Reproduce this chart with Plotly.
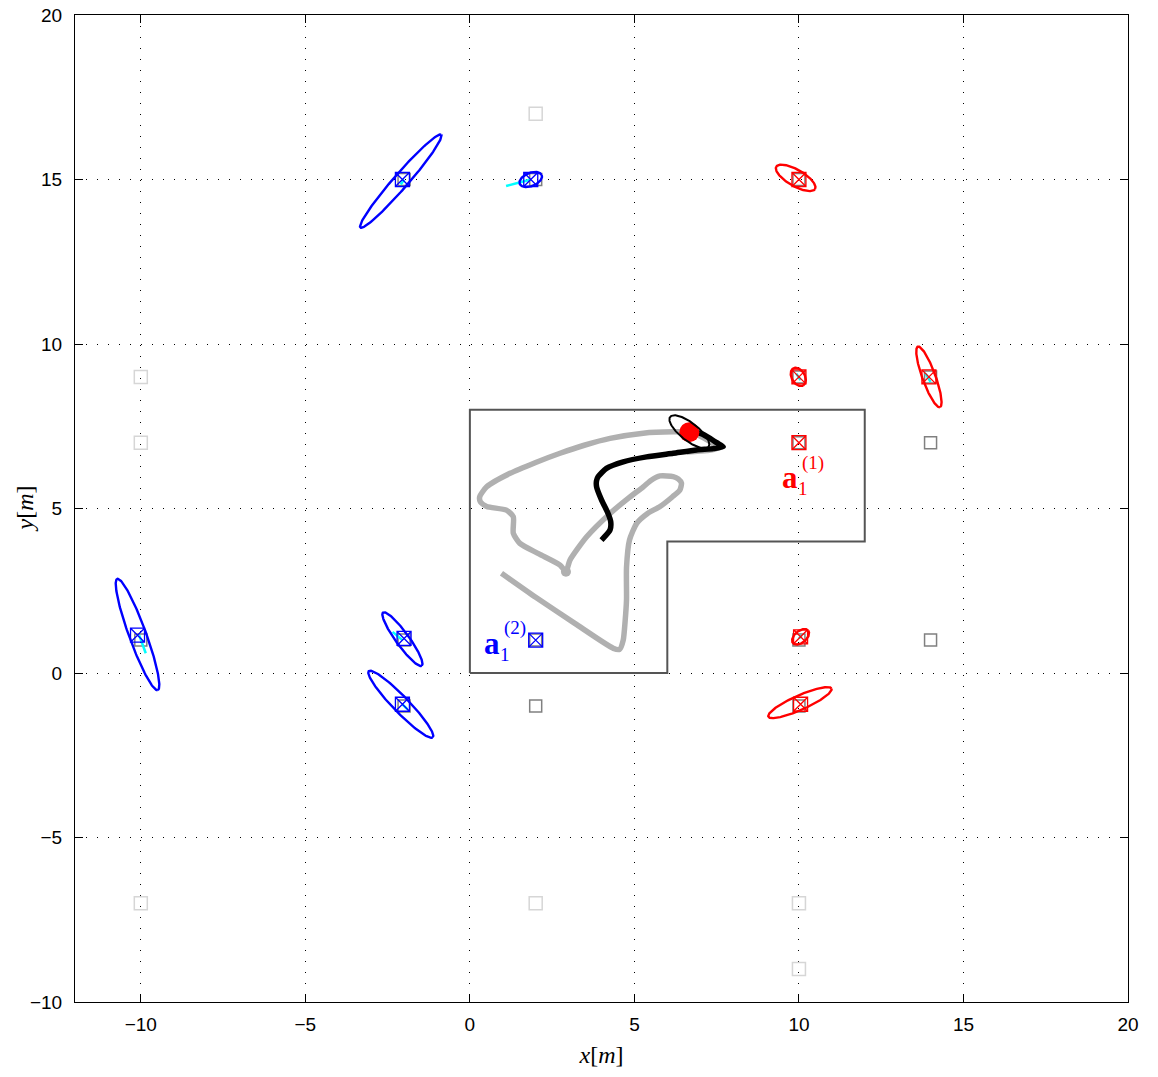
import numpy as np
import plotly.graph_objects as go

# ---------------- data ----------------
# region boundary polygon
region_x = [0, 0, 12, 12, 6, 6, 0]
region_y = [0, 8, 8, 4, 4, 0, 0]

# true trajectory (gray)
true_x = [0.96, 2.0, 3.2, 4.36, 4.55, 4.66, 4.72, 4.76, 4.76, 4.85, 5.07, 5.4, 5.78, 6.15, 6.38, 6.43,
          6.33, 6.18, 5.78, 5.5, 5.27, 4.8, 4.26, 3.55, 3.04, 2.92, 2.74, 2.1, 1.52, 1.32, 1.32, 1.11,
          0.51, 0.32, 0.30, 0.51, 1.22, 2.0, 2.74, 3.5, 4.26, 5.27, 6.18, 6.67, 7.1, 7.45, 7.5, 7.2, 6.6]
true_y = [3.03, 2.3, 1.5, 0.75, 0.72, 1.0, 1.6, 2.22, 3.2, 4.04, 4.55, 4.85, 5.06, 5.35, 5.56, 5.77,
          5.9, 5.97, 5.99, 5.85, 5.66, 5.3, 4.85, 4.14, 3.43, 3.08, 3.28, 3.62, 3.94, 4.25, 4.75, 4.95,
          5.06, 5.2, 5.36, 5.66, 6.07, 6.4, 6.68, 6.93, 7.13, 7.29, 7.33, 7.32, 7.15, 6.92, 6.82, 6.76, 6.72]

# estimated trajectory (black)
est_x = [4.0, 4.26, 4.28, 4.2, 4.0, 3.85, 3.85, 3.9, 4.15, 4.66, 5.37, 6.18, 6.89, 7.4, 7.7,
         7.5, 7.3, 7.05, 6.85, 6.67]
est_y = [4.04, 4.35, 4.6, 4.85, 5.26, 5.66, 5.85, 5.97, 6.22, 6.42, 6.57, 6.68, 6.78, 6.82, 6.88,
         7.0, 7.13, 7.27, 7.32, 7.32]

# current position estimate (red dot)
cur_x = [6.67]
cur_y = [7.32]

# true anchors shown in mid gray
anch_x = [-2, 2, 10, 10, 14, -10, -2, -2, 10, 10, 14, 14, 2, 10, 2]
anch_y = [15, 15, 15, 9, 9, 1, 1, -1, 1, -1, 7, 1, -1, 7, 1]

# candidate anchors shown in light gray
cand_x = [2, -10, -10, -10, 2, 10, 10]
cand_y = [17, 9, 7, -7, -7, -7, -9]

# estimated anchors, group 1 (red) and group 2 (blue)
red_x = [10.0, 10.0, 13.95, 10.0, 10.05, 10.05]
red_y = [15.0, 9.0, 9.0, 7.0, 1.1, -0.95]
blue_x = [-2.05, 1.85, -10.1, -2.0, -2.05, 2.0]
blue_y = [15.0, 15.0, 1.15, 1.05, -0.95, 1.0]

# uncertainty ellipses: center x, center y, semi-major, semi-minor, angle (deg)
red_ell_cx = [9.9, 9.98, 13.95, 10.05, 10.03]
red_ell_cy = [15.05, 9.0, 9.0, 1.1, -0.9]
red_ell_a = [0.68, 0.3, 0.98, 0.3, 1.05]
red_ell_b = [0.25, 0.2, 0.2, 0.18, 0.22]
red_ell_t = [-30, -60, -70, 40, 24]

blue_ell_cx = [-2.1, 1.85, -10.1, -2.05, -2.1]
blue_ell_cy = [14.95, 15.0, 1.17, 1.03, -0.95]
blue_ell_a = [1.87, 0.36, 1.8, 1.0, 1.4]
blue_ell_b = [0.22, 0.2, 0.26, 0.2, 0.24]
blue_ell_t = [49, 22, -70, -54, -46]

# ellipse around current estimate (black)
cur_ell_cx = [6.67]
cur_ell_cy = [7.33]
cur_ell_a = [0.74]
cur_ell_b = [0.27]
cur_ell_t = [-38]

# anchor estimate trails (cyan segments)
trail_x = [[1.1, 1.85], [-2.1, -2.0], [-9.85, -10.05], [-2.35, -2.05], [-2.05, -1.9],
           [9.92, 10.05], [13.85, 14.0], [10.0, 10.08]]
trail_y = [[14.8, 15.0], [14.85, 15.0], [0.6, 1.15], [1.25, 1.0], [-0.95, -1.1],
           [9.1, 8.9], [9.1, 8.85], [1.05, 1.15]]

x_ticks = [-10, -5, 0, 5, 10, 15, 20]
y_ticks = [-10, -5, 0, 5, 10, 15, 20]

# ---------------- figure ----------------
def ellipse(cx, cy, a, b, t):
    s = np.linspace(0, 2 * np.pi, 200)
    th = np.deg2rad(t)
    ex = a * np.cos(s)
    ey = b * np.sin(s)
    return cx + ex * np.cos(th) - ey * np.sin(th), cy + ex * np.sin(th) + ey * np.cos(th)

fig = go.Figure()

fig.add_trace(go.Scatter(x=region_x, y=region_y, mode="lines",
                         line=dict(color="#555555", width=2), hoverinfo="skip"))

fig.add_trace(go.Scatter(x=cand_x, y=cand_y, mode="markers",
                         marker=dict(symbol="square-open", size=13, color="#d6d6d6",
                                     line=dict(width=1.5, color="#d6d6d6"))))
fig.add_trace(go.Scatter(x=anch_x, y=anch_y, mode="markers",
                         marker=dict(symbol="square-open", size=12, color="#808080",
                                     line=dict(width=1.5, color="#808080"))))

fig.add_trace(go.Scatter(x=true_x, y=true_y, mode="lines",
                         line=dict(color="#b0b0b0", width=5.5, shape="spline", smoothing=0.6)))
fig.add_trace(go.Scatter(x=[true_x[25]], y=[true_y[25]], mode="markers",
                         marker=dict(size=10, color="#b0b0b0")))

for i in range(len(trail_x)):
    fig.add_trace(go.Scatter(x=trail_x[i], y=trail_y[i], mode="lines",
                             line=dict(color="#00ffff", width=2.5)))

for cxs, cys, as_, bs, ts, col in [
        (red_ell_cx, red_ell_cy, red_ell_a, red_ell_b, red_ell_t, "#ff0000"),
        (blue_ell_cx, blue_ell_cy, blue_ell_a, blue_ell_b, blue_ell_t, "#0000ff")]:
    for i in range(len(cxs)):
        ex, ey = ellipse(cxs[i], cys[i], as_[i], bs[i], ts[i])
        fig.add_trace(go.Scatter(x=ex, y=ey, mode="lines", line=dict(color=col, width=2.4)))

fig.add_trace(go.Scatter(x=red_x, y=red_y, mode="markers",
                         marker=dict(symbol="square-x-open", size=14, color="#ff0000",
                                     line=dict(width=1.3, color="#ff0000"))))
fig.add_trace(go.Scatter(x=blue_x, y=blue_y, mode="markers",
                         marker=dict(symbol="square-x-open", size=14, color="#0000ff",
                                     line=dict(width=1.3, color="#0000ff"))))

fig.add_trace(go.Scatter(x=est_x, y=est_y, mode="lines",
                         line=dict(color="#000000", width=5.5, shape="spline", smoothing=0.6)))

fig.add_trace(go.Scatter(x=cur_x, y=cur_y, mode="markers",
                         marker=dict(size=20, color="#ff0000")))
ex, ey = ellipse(cur_ell_cx[0], cur_ell_cy[0], cur_ell_a[0], cur_ell_b[0], cur_ell_t[0])
fig.add_trace(go.Scatter(x=ex, y=ey, mode="lines", line=dict(color="#000000", width=2)))

# labels a_1^(1), a_1^(2)
def label(xa, ya, sup, col):
    fig.add_annotation(x=xa, y=ya, text="<b>a</b>", showarrow=False,
                       font=dict(family="Liberation Serif", size=31, color=col),
                       xanchor="center", yanchor="middle")
    fig.add_annotation(x=xa, y=ya, text="1", showarrow=False, xshift=13, yshift=-11,
                       font=dict(family="Liberation Serif", size=19, color=col),
                       xanchor="center", yanchor="middle")
    fig.add_annotation(x=xa, y=ya, text=sup, showarrow=False, xshift=23, yshift=15,
                       font=dict(family="Liberation Serif", size=19, color=col),
                       xanchor="center", yanchor="middle")

label(9.73, 5.93, "(1)", "#ff0000")
label(0.66, 0.9, "(2)", "#0000ff")

# y-axis title placed as an annotation
fig.add_annotation(xref="paper", yref="paper", x=-0.0475, y=0.5, text="<i>y</i>[<i>m</i>]",
                   textangle=-90, showarrow=False, xanchor="center", yanchor="middle",
                   font=dict(family="Liberation Serif", size=24, color="black"))

axis_common = dict(showline=True, linecolor="black", linewidth=1, mirror="ticks",
                   ticks="inside", ticklen=8, tickcolor="black", tickwidth=1,
                   showgrid=True, gridcolor="black", gridwidth=1, griddash="1px,10px",
                   zeroline=False, automargin=False,
                   tickfont=dict(family="Liberation Sans", size=19, color="black"))

fig.update_layout(
    width=1158, height=1077,
    margin=dict(l=75, r=30, t=15, b=75),
    paper_bgcolor="white", plot_bgcolor="white",
    showlegend=False,
    xaxis=dict(range=[-12, 20], tickvals=x_ticks,
               ticktext=["\u2212" + str(-v) if v < 0 else str(v) for v in x_ticks],
               ticklabelstandoff=5,
               title=dict(text="<i>x</i>[<i>m</i>]", standoff=12,
                          font=dict(family="Liberation Serif", size=24, color="black")),
               **axis_common),
    yaxis=dict(range=[-10, 20], tickvals=y_ticks,
               ticktext=["\u2212" + str(-v) if v < 0 else str(v) for v in y_ticks],
               ticklabelstandoff=8,
               **axis_common),
)

fig.write_html("out.html", config={"displayModeBar": False},
               post_script="document.body.style.margin='0px';")
